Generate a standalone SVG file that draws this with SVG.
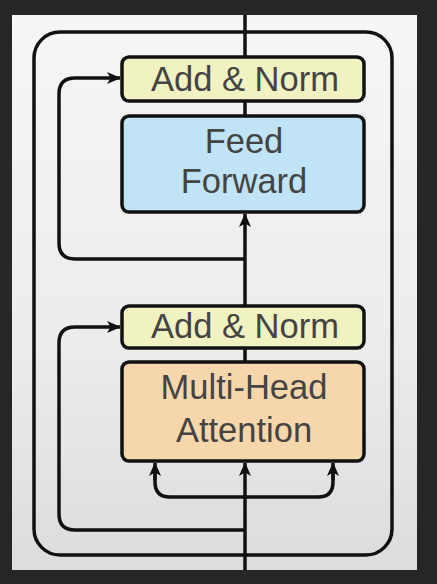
<svg xmlns="http://www.w3.org/2000/svg" width="437" height="584" viewBox="0 0 437 584">
<defs>
<linearGradient id="panel" x1="0" y1="0" x2="0" y2="1">
<stop offset="0" stop-color="#f6f6f6"/>
<stop offset="0.6" stop-color="#ececec"/>
<stop offset="1" stop-color="#dcdcdc"/>
</linearGradient>
<marker id="ah" viewBox="0 0 14 12" refX="13" refY="6" markerWidth="14" markerHeight="12" markerUnits="userSpaceOnUse" orient="auto">
<path d="M0,0 L14,6 L0,12 L3.5,6 z" fill="#111"/>
</marker>
<style>
.ln{fill:none;stroke:#111;stroke-width:3.5;}
.box{stroke:#111;stroke-width:3.5;}
.an{fill:#f1f2c2;}
.ff{fill:#c0e4f6;}
.mha{fill:#f6d7ac;}
.t{font-family:"Liberation Sans",Arial,sans-serif;font-size:34.5px;fill:#444;text-anchor:middle;}
</style>
</defs>
<rect x="0" y="0" width="437" height="584" fill="#262626"/>
<rect x="12" y="15" width="405" height="555" fill="url(#panel)"/>
<g id="connectors">
<rect class="ln" x="34" y="32" width="358" height="523" rx="26"/>
<line class="ln" x1="245" y1="15" x2="245" y2="57"/>
<line class="ln" x1="245" y1="101" x2="245" y2="116"/>
<line class="ln" x1="245" y1="306" x2="245" y2="214" marker-end="url(#ah)"/>
<line class="ln" x1="245" y1="348" x2="245" y2="362"/>
<line class="ln" x1="245" y1="570" x2="245" y2="463" marker-end="url(#ah)"/>
<path class="ln" d="M245,259 H75 Q59,259 59,243 V94 Q59,78 75,78 H120" marker-end="url(#ah)"/>
<path class="ln" d="M245,530 H75 Q59,530 59,514 V343 Q59,327 75,327 H120" marker-end="url(#ah)"/>
<path class="ln" d="M155,470 V482 Q155,497 170,497 H318 Q333,497 333,482 V470" />
<line class="ln" x1="155" y1="480" x2="155" y2="463" marker-end="url(#ah)"/>
<line class="ln" x1="333" y1="480" x2="333" y2="463" marker-end="url(#ah)"/>
</g>
<g id="addnorm1">
<rect class="box an" x="122" y="57" width="242" height="44" rx="7"/>
<text class="t" x="245" y="91">Add &amp; Norm</text>
</g>
<g id="feedforward">
<rect class="box ff" x="122" y="116" width="242" height="96" rx="7"/>
<text class="t" x="244" y="153">Feed</text>
<text class="t" x="244" y="193">Forward</text>
</g>
<g id="addnorm2">
<rect class="box an" x="122" y="306" width="242" height="42" rx="7"/>
<text class="t" x="245" y="338">Add &amp; Norm</text>
</g>
<g id="multihead">
<rect class="box mha" x="122" y="362" width="242" height="99" rx="7"/>
<text class="t" x="244" y="399">Multi-Head</text>
<text class="t" x="244" y="442">Attention</text>
</g>
</svg>
